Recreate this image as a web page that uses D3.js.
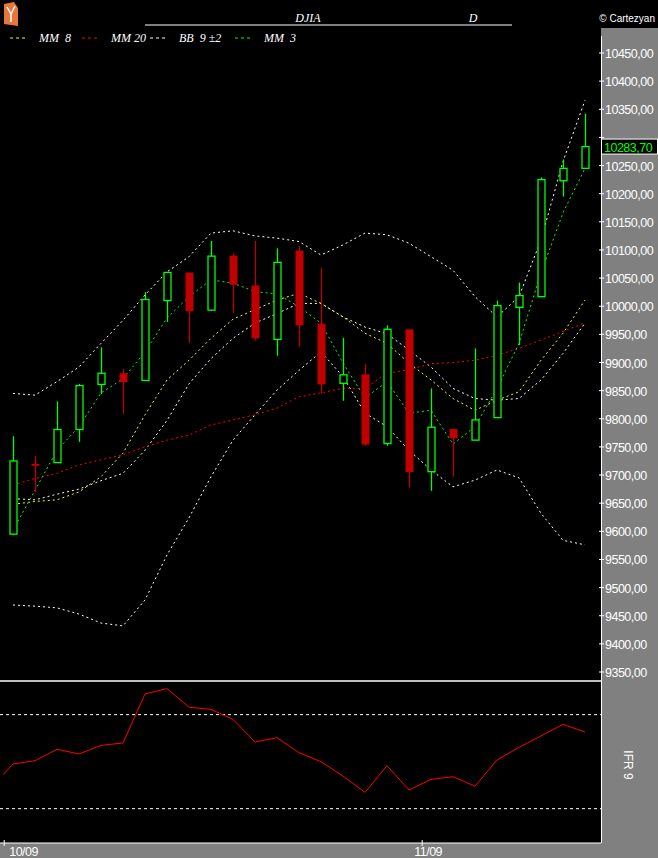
<!DOCTYPE html>
<html><head><meta charset="utf-8">
<script src="https://cdn.jsdelivr.net/npm/d3@7/dist/d3.min.js"></script>
<style>body{margin:0;background:#000}</style></head>
<body><svg id="c" width="658" height="858"></svg>
<script>
const open_ = [9595,9719,9722,9781,9861,9880,9868,10010,10059,9993,10089,10036,9941,10098,9968,9863,9878,9756,9958,9706,9781,9762,9802,9998,10017,10223,10245];
const close_ = [9725,9719,9781,9859,9881,9866,10012,10060,9992,10089,10039,9944,10078,9967,9862,9878,9755,9959,9706,9785,9766,9798,10001,10019,10225,10245,10283.7];
const high_ = [9769,9734,9831,9862,9927,9888,10025,10060,10059,10116,10094,10116,10103,10106,10068,9944,9897,9966,9958,9854,9781,9925,10010,10042,10229,10261,10342];
const low_ = [9593,9669,9722,9759,9844,9809,9868,9972,9935,9992,9988,9939,9912,9928,9845,9832,9752,9752,9678,9672,9697,9762,9802,9931,10017,10195,10245];
const mm3 = [9602,9673,9744,9786,9846,9871,9919,9979,10017,10047,10041,10026,10022,9999,9970,9899,9837,9866,9810,9815,9755,9786,9854,9934,10059,10166,10245];
const mm8 = [9648,9653,9656,9670,9697,9739,9807,9869,9904,9943,9977,9994,10011,10023,10005,9981,9952,9934,9899,9869,9836,9815,9833,9848,9904,9952,10011];
const mm20 = [9682,9694,9703,9718,9727,9736,9750,9762,9771,9789,9798,9807,9819,9839,9846,9854,9854,9881,9887,9898,9900,9904,9913,9925,9940,9955,9971];
const bbMid = [9658,9656,9666,9675,9690,9703,9744,9797,9862,9907,9943,9970,9987,10005,10005,9981,9963,9951,9922,9892,9854,9836,9833,9836,9869,9916,9970];
const bbUp = [9845,9842,9866,9892,9934,9975,10020,10061,10088,10130,10134,10125,10121,10115,10091,10109,10130,10127,10112,10088,10064,10017,9981,10017,10118,10257,10366];
const bbLow = [9469,9467,9464,9453,9437,9432,9478,9558,9624,9697,9762,9807,9851,9886,9919,9875,9810,9786,9744,9709,9679,9691,9709,9695,9632,9584,9576];
const rsiPrev = 41.7;
const rsi = [48.5,50.6,57.9,54.9,60.4,61.9,93.2,96.6,84.7,83.4,77,62.5,65.3,55.7,50,40.8,30.4,47.4,31.9,38.7,40.4,34.3,51.1,59.1,66.4,73.8,68.9];
const priceTicks = d3.range(9350, 10451, 50);
const dateLabels = [{i:-0.4,t:"10/09"},{i:18.6,t:"11/09"}];
const legend = [{c:"#ffff00",t:"MM  8"},{c:"#ff0000",t:"MM 20"},{c:"#ffffff",t:"BB  9 ±2"},{c:"#00ff00",t:"MM  3"}];

const svg = d3.select("#c");
const n = close_.length;
const x = d3.scaleLinear().domain([0, n-1]).range([13, 585]);
const y = d3.scaleLinear().domain([9350, 10450]).range([672, 53]);
const yr = d3.scaleLinear().domain([0, 100]).range([840, 683.3]);
const fmt = v => d3.format(".2f")(v).replace(".", ",");
const last = close_[n-1];

svg.append("rect").attr("width",658).attr("height",858).attr("fill","#000");
svg.append("rect").attr("x",601).attr("y",28).attr("width",57).attr("height",830).attr("fill","#808080");
svg.append("rect").attr("x",0).attr("y",843).attr("width",658).attr("height",15).attr("fill","#808080");
// logo
svg.append("path").attr("d","M4,4 L14,2 L18,8 L18,26 L4,24 Z").attr("fill","#e8763a");
svg.append("path").attr("d","M7,7 L11,14 L15,6 M11,14 L11,22").attr("stroke","#fff").attr("stroke-width",1.5).attr("fill","none");
// title
svg.append("line").attr("x1",145).attr("x2",512).attr("y1",25).attr("y2",25).attr("stroke","#fff");
svg.append("text").attr("x",308).attr("y",22).attr("fill","#fff").attr("font-family","Liberation Serif").attr("font-style","italic").attr("font-size",12).attr("text-anchor","middle").text("DJIA");
svg.append("text").attr("x",473).attr("y",22).attr("fill","#fff").attr("font-family","Liberation Serif").attr("font-style","italic").attr("font-size",12).attr("text-anchor","middle").text("D");
svg.append("text").attr("x",655).attr("y",22).attr("fill","#fff").attr("font-family","Liberation Sans").attr("font-size",10).attr("text-anchor","end").text("© Cartezyan");
// legend
const lx = [10, 82, 150, 235];
legend.forEach((d,i)=>{
  svg.append("line").attr("x1",lx[i]).attr("x2",lx[i]+17).attr("y1",38).attr("y2",38).attr("stroke",d.c).attr("stroke-dasharray","3,3");
  svg.append("text").attr("x",lx[i]+29).attr("y",42).attr("fill","#fff").attr("font-family","Liberation Serif").attr("font-style","italic").attr("font-size",12).attr("xml:space","preserve").text(d.t);
});
// price axis
svg.append("line").attr("x1",601.5).attr("x2",601.5).attr("y1",36).attr("y2",843).attr("stroke","#fff");
priceTicks.forEach(v=>{
  svg.append("line").attr("x1",599).attr("x2",604).attr("y1",y(v)).attr("y2",y(v)).attr("stroke","#fff");
  if (Math.abs(y(v)-y(last)) > 12)
    svg.append("text").attr("x",605).attr("y",y(v)+5).attr("fill","#fff").attr("font-family","Liberation Sans").attr("font-size",12.5).attr("letter-spacing",-0.5).text(fmt(v));
});
// lines
const line = d3.line().x((d,i)=>x(i)).y(d=>y(d));
[[bbUp,"#ffffff"],[bbLow,"#ffffff"],[bbMid,"#ffffff"],[mm20,"#ff0000"],[mm8,"#ffff00"],[mm3,"#00ff00"]].forEach(([arr,c])=>{
  svg.append("path").attr("d",line(arr)).attr("fill","none").attr("stroke",c).attr("stroke-width",1).attr("stroke-dasharray","2,3");
});
// candles
for(let i=0;i<n;i++){
  const up = close_[i] >= open_[i] && i!==1;
  const c = up ? "#00ff00" : "#c00000";
  const cx = Math.round(x(i))+0.5;
  svg.append("line").attr("x1",cx).attr("x2",cx).attr("y1",y(high_[i])).attr("y2",y(low_[i])).attr("stroke",c).attr("stroke-width",1.3);
  const t = y(Math.max(open_[i],close_[i])), b = y(Math.min(open_[i],close_[i]));
  if(up) svg.append("rect").attr("x",cx-3.5).attr("y",t).attr("width",7).attr("height",Math.max(1,b-t)).attr("fill","#000").attr("stroke",c).attr("stroke-width",1.3);
  else svg.append("rect").attr("x",cx-4).attr("y",t-0.5).attr("width",8).attr("height",Math.max(2,b-t+1)).attr("fill",c);
}
// current price
svg.append("rect").attr("x",601.5).attr("y",y(last)-7.5).attr("width",56).attr("height",15).attr("fill","#000").attr("stroke","#fff");
svg.append("text").attr("x",604).attr("y",y(last)+5).attr("fill","#00ff00").attr("font-family","Liberation Sans").attr("font-size",12.5).attr("letter-spacing",-0.5).text(fmt(last));
// RSI panel
svg.append("line").attr("x1",0).attr("x2",601).attr("y1",681).attr("y2",681).attr("stroke","#fff").attr("stroke-width",1.5);
[80,20].forEach(v=>svg.append("line").attr("x1",0).attr("x2",601).attr("y1",yr(v)).attr("y2",yr(v)).attr("stroke","#fff").attr("stroke-dasharray","3,3"));
svg.append("line").attr("x1",0).attr("x2",601).attr("y1",843).attr("y2",843).attr("stroke","#fff");
const rsiPts = [[x(-0.45), yr(rsiPrev)]].concat(rsi.map((d,i)=>[x(i), yr(d)]));
svg.append("path").attr("d",d3.line()(rsiPts)).attr("fill","none").attr("stroke","#ff0000").attr("stroke-width",1);
svg.append("text").attr("transform","translate(624,765) rotate(90)").attr("fill","#fff").attr("font-family","Liberation Sans").attr("font-size",12).attr("text-anchor","middle").text("IFR 9");
// date axis
dateLabels.forEach(d=>{
  svg.append("line").attr("x1",x(d.i)).attr("x2",x(d.i)).attr("y1",840).attr("y2",846).attr("stroke","#fff");
  svg.append("text").attr("x",x(d.i)-8+ (d.i<0?13:0)).attr("y",856).attr("fill","#fff").attr("font-family","Liberation Sans").attr("font-size",12.5).attr("letter-spacing",-0.5).text(d.t);
});
</script></body></html>
